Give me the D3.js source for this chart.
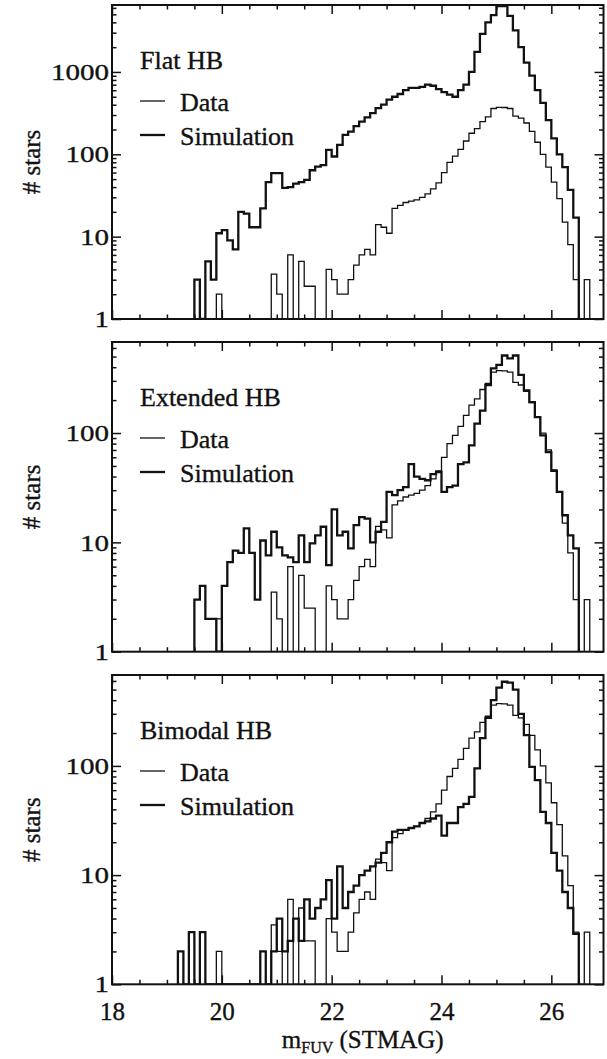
<!DOCTYPE html>
<html>
<head>
<meta charset="utf-8">
<script src="https://cdn.jsdelivr.net/npm/d3@7"></script>
<style>
  html, body { margin: 0; padding: 0; background: #fff; }
  svg { display: block; }
  text { font-family: "Liberation Serif", "Times New Roman", serif; fill: #111; stroke: #111; stroke-width: 0.35px; }
</style>
</head>
<body>
<svg id="chart" width="607" height="1059"></svg>
<script>
// Histograms of far-UV magnitudes: observed counts vs. three HB simulations.
// All histograms use 0.1 mag bins; each array starts at the given left bin edge.
const binWidth = 0.1;

// Observed counts (same catalogue in every panel)
const dataStart = 19.9;
const dataCounts = [
  2,                                   // 19.9
  0, 0, 0, 0, 0, 0, 0, 0, 0,           // 20.0 - 20.8
  3.5, 2, 0, 6, 0, 5, 2.5, 2.5, 0, 0,  // 20.9 - 21.8
  4, 3, 2, 2, 3, 4.5, 6, 7, 6, 14,     // 21.9 - 22.8
  13, 11, 22, 24, 26, 27, 28, 30, 33, 38, // 22.9 - 23.8
  45, 60, 80, 95, 115, 145, 180, 205, 250, 285, // 23.9 - 24.8
  360, 372, 370, 360, 290, 275, 240, 190, 140, 100, // 24.9 - 25.8
  70, 46, 29, 15, 8, 3, 0, 3           // 25.9 - 26.6
];

// Simulated counts, flat horizontal branch
const flatStart = 19.5;
const flatSim = [
  3, 0, 5, 3, 11, 12, 9, 7, 20, 19,          // 19.5 - 20.4
  13, 13, 22, 46, 59, 59, 39, 40, 44, 46,    // 20.5 - 21.4
  49, 64, 71, 74, 113, 94, 130, 172, 189, 220, // 21.5 - 22.4
  250, 280, 316, 363, 400, 460, 500, 540, 600, 640, // 22.5 - 23.4
  640, 660, 700, 680, 620, 570, 530, 500, 600, 700, // 23.5 - 24.4
  1000, 1750, 2900, 4000, 4900, 6300, 6300, 4800, 3200, 2000, // 24.5 - 25.4
  1300, 900, 600, 420, 260, 156, 100, 70, 37, 17 // 25.5 - 26.4
];

// Simulated counts, extended horizontal branch
const extStart = 19.5;
const extSim = [
  3, 4, 2, 2, 0, 4, 6.6, 8.4, 8, 13.4,       // 19.5 - 20.4
  8, 3, 10.4, 7.6, 12.5, 9, 7.6, 7.3, 6.6, 11.6, // 20.5 - 21.4
  6.6, 9.8, 11.6, 13.9, 6.2, 20, 11.6, 12.5, 8.8, 14.4, // 21.5 - 22.4
  17, 16.5, 10, 12.5, 15.4, 29, 27, 30, 32, 52, // 22.5 - 23.4
  40, 38, 37, 42, 44, 29, 32, 33, 52, 54,    // 23.5 - 24.4
  77, 122, 160, 275, 390, 420, 512, 481, 512, 340, // 24.5 - 25.4
  245, 192, 140, 95, 67, 45, 29, 17.7, 11.6, 8.8 // 25.5 - 26.4
];

// Simulated counts, bimodal horizontal branch
const bimStart = 19.2;
const bimSim = [
  2, 0, 3, 0, 3, 0, 0, 0, 0, 0,              // 19.2 - 20.1
  0, 0, 0, 0, 0, 2, 0, 2, 4, 2,              // 20.2 - 21.1
  2.5, 4, 2.5, 6, 4, 5, 6, 9, 4, 12,         // 21.2 - 22.1
  5, 7, 8, 10, 11, 12, 13, 16, 20, 25,       // 22.2 - 23.1
  26, 26, 27, 28, 30, 31, 33, 35, 23, 30,    // 23.2 - 24.1
  30, 42, 45, 52, 95, 180, 275, 400, 520, 590, // 24.2 - 25.1
  580, 500, 300, 191, 98, 74, 38, 30, 16, 11, // 25.2 - 26.1
  7, 5, 2.9                                  // 26.2 - 26.4
];

const panelTitles = ["Flat HB", "Extended HB", "Bimodal HB"];
const simStarts = [flatStart, extStart, bimStart];
const simSeries = [flatSim, extSim, bimSim];
const yMaxima = [6500, 680, 680];
const yLabelTicks = [[1, 10, 100, 1000], [1, 10, 100], [1, 10, 100]];
const xLabelTicks = [18, 20, 22, 24, 26];
const xMinorTicks = [18.5, 19, 19.5, 20.5, 21, 21.5, 22.5, 23, 23.5, 24.5, 25, 25.5, 26.5];
const legendLabels = ["Data", "Simulation"];
const xTitleMain = "m";
const xTitleSub = "FUV";
const xTitleUnit = " (STMAG)";
const yTitle = "# stars";

// Layout
const plotLeft = 112, plotRight = 603.5;
const panelBoxes = [
  { top: 5, bottom: 319 },
  { top: 342, bottom: 651.7 },
  { top: 675, bottom: 984.3 }
];

const svg = d3.select("#chart");
const x = d3.scaleLinear().domain([18, 26.95]).range([plotLeft, plotRight]);

function stepPoints(start, counts) {
  const pts = [[start, 1]];
  counts.forEach((c, i) => pts.push([start + i * binWidth, Math.max(c, 1)]));
  pts.push([start + counts.length * binWidth, 1]);
  return pts;
}

function minorLogTicks(maxVal) {
  const out = [];
  for (let d = 1; d < maxVal; d *= 10) {
    for (let m = 2; m <= 9; m++) {
      if (m * d < maxVal) out.push(m * d);
    }
  }
  return out;
}

panelBoxes.forEach((box, p) => {
  const g = svg.append("g");
  const y = d3.scaleLog().domain([1, yMaxima[p]]).range([box.bottom, box.top]);
  const isLast = p === panelBoxes.length - 1;

  // clip region for histogram outlines
  const clipId = "clip" + p;
  svg.append("clipPath").attr("id", clipId)
    .append("rect")
    .attr("x", plotLeft).attr("y", box.top)
    .attr("width", plotRight - plotLeft).attr("height", box.bottom - box.top);

  const line = d3.line()
    .x(d => x(d[0]))
    .y(d => y(d[1]))
    .curve(d3.curveStepAfter);

  const hist = g.append("g").attr("clip-path", `url(#${clipId})`);
  hist.append("path")
    .attr("d", line(stepPoints(simStarts[p], simSeries[p])))
    .attr("fill", "none").attr("stroke", "#111")
    .attr("stroke-width", 2.3).attr("stroke-linejoin", "miter");
  hist.append("path")
    .attr("d", line(stepPoints(dataStart, dataCounts)))
    .attr("fill", "none").attr("stroke", "#111")
    .attr("stroke-width", 1.3).attr("stroke-linejoin", "miter");

  // axes with inward ticks on all four sides
  const styleAxis = sel => {
    sel.select(".domain").remove();
    sel.selectAll(".tick line").attr("stroke", "#111").attr("stroke-width", 1.5);
  };

  g.append("g").attr("transform", `translate(0,${box.bottom})`)
    .call(d3.axisBottom(x).tickValues(xLabelTicks).tickSizeInner(-9).tickSizeOuter(0)
      .tickPadding(isLast ? 18 : 0)
      .tickFormat(d => isLast ? d : ""))
    .call(styleAxis)
    .call(a => a.selectAll(".tick text")
      .attr("font-size", 25).attr("fill", "#111")
      .attr("font-family", "Liberation Serif, serif"));
  g.append("g").attr("transform", `translate(0,${box.bottom})`)
    .call(d3.axisBottom(x).tickValues(xMinorTicks).tickSizeInner(-4.5).tickSizeOuter(0).tickFormat(""))
    .call(styleAxis);
  g.append("g").attr("transform", `translate(0,${box.top})`)
    .call(d3.axisTop(x).tickValues(xLabelTicks).tickSizeInner(-9).tickSizeOuter(0).tickFormat(""))
    .call(styleAxis);
  g.append("g").attr("transform", `translate(0,${box.top})`)
    .call(d3.axisTop(x).tickValues(xMinorTicks).tickSizeInner(-4.5).tickSizeOuter(0).tickFormat(""))
    .call(styleAxis);

  g.append("g").attr("transform", `translate(${plotLeft},0)`)
    .call(d3.axisLeft(y).tickValues(yLabelTicks[p]).tickSizeInner(-9).tickSizeOuter(0)
      .tickPadding(3).tickFormat(d3.format("d")))
    .call(styleAxis)
    .call(a => a.selectAll(".tick text")
      .attr("font-size", 24).attr("fill", "#111")
      .attr("font-family", "Liberation Serif, serif")
      .attr("textLength", d => String(d).length * 14.5)
      .attr("lengthAdjust", "spacingAndGlyphs"));
  g.append("g").attr("transform", `translate(${plotLeft},0)`)
    .call(d3.axisLeft(y).tickValues(minorLogTicks(yMaxima[p])).tickSizeInner(-4.5).tickSizeOuter(0).tickFormat(""))
    .call(styleAxis);
  g.append("g").attr("transform", `translate(${plotRight},0)`)
    .call(d3.axisRight(y).tickValues(yLabelTicks[p]).tickSizeInner(-9).tickSizeOuter(0).tickFormat(""))
    .call(styleAxis);
  g.append("g").attr("transform", `translate(${plotRight},0)`)
    .call(d3.axisRight(y).tickValues(minorLogTicks(yMaxima[p])).tickSizeInner(-4.5).tickSizeOuter(0).tickFormat(""))
    .call(styleAxis);

  // frame
  g.append("rect")
    .attr("x", plotLeft).attr("y", box.top)
    .attr("width", plotRight - plotLeft).attr("height", box.bottom - box.top)
    .attr("fill", "none").attr("stroke", "#111").attr("stroke-width", 2);

  // panel title and legend
  g.append("text").attr("x", 140).attr("y", box.top + 63.5)
    .attr("font-size", 26).text(panelTitles[p]);
  const legendW = [1.3, 2.3];
  legendLabels.forEach((lab, i) => {
    const ly = box.top + 96 + i * 34;
    g.append("line").attr("x1", 140).attr("x2", 165).attr("y1", ly).attr("y2", ly)
      .attr("stroke", "#111").attr("stroke-width", legendW[i]);
    g.append("text").attr("x", 180).attr("y", ly + 10)
      .attr("font-size", 26).text(lab);
  });

  // y title
  const cy = (box.top + box.bottom) / 2;
  g.append("text")
    .attr("transform", `translate(40,${cy}) rotate(-90)`)
    .attr("text-anchor", "middle").attr("font-size", 25)
    .text(yTitle);
});

// x title
const xt = svg.append("text").attr("x", (plotLeft + plotRight) / 2 + 5).attr("y", 1048)
  .attr("text-anchor", "middle").attr("font-size", 25);
xt.append("tspan").text(xTitleMain);
xt.append("tspan").attr("font-size", 16).attr("dy", 5).text(xTitleSub);
xt.append("tspan").attr("dy", -5).text(xTitleUnit);
</script>
</body>
</html>
